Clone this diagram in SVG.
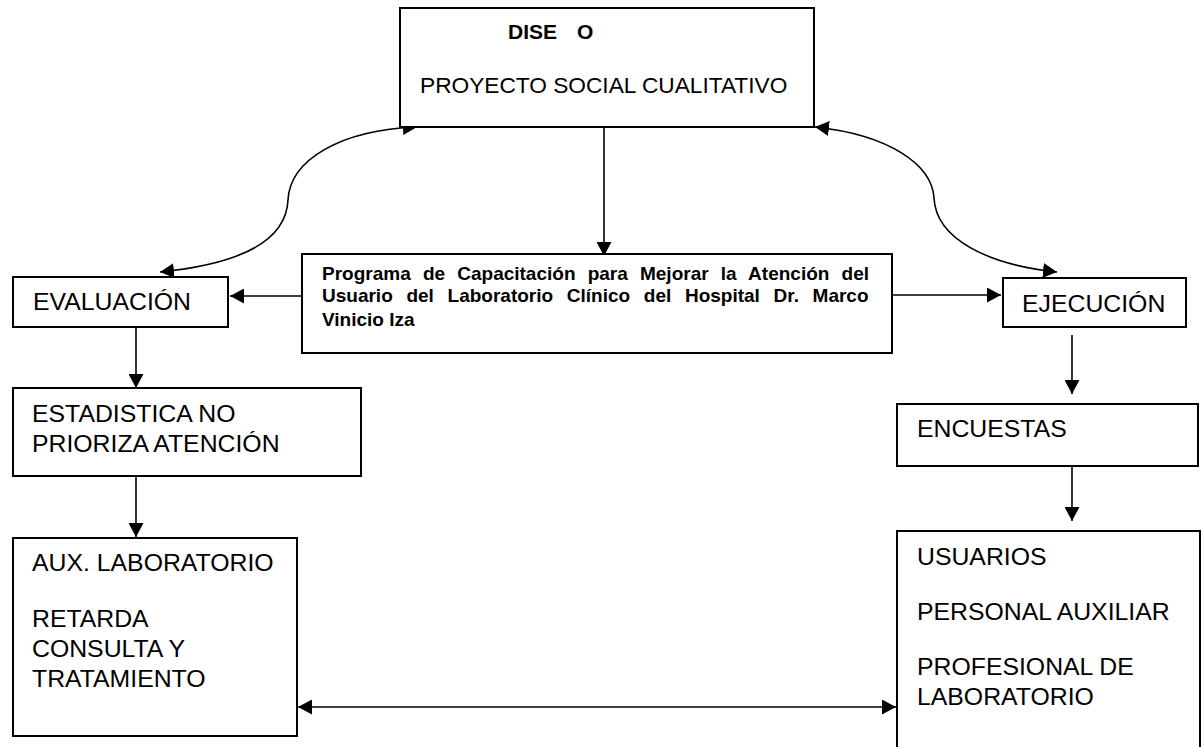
<svg xmlns="http://www.w3.org/2000/svg" width="1204" height="747" viewBox="0 0 1204 747">
<style>
.box{fill:#fff;stroke:#000;stroke-width:2}
.t{font-family:"Liberation Sans",Arial,sans-serif;font-size:24.8px;fill:#000}
.tb{font-family:"Liberation Sans",Arial,sans-serif;font-weight:bold;fill:#000}
.c{fill:none;stroke:#000;stroke-width:1.6}
</style>
<defs>
<marker id="ah" markerUnits="userSpaceOnUse" markerWidth="15" markerHeight="15" refX="14" refY="7.5" orient="auto-start-reverse" viewBox="0 0 15 15">
<path d="M0,0 L14,7.5 L0,15 z" fill="#000"/>
</marker>
</defs>
<rect width="1204" height="747" fill="#fff"/>
<g id="connectors">
<path class="c" d="M417,127 C340,130 290,160 288,200 C286,245 230,265 160,272" marker-start="url(#ah)" marker-end="url(#ah)"/>
<path class="c" d="M815,127 C890,135 932,165 934,198 C936,240 990,265 1057,272" marker-start="url(#ah)" marker-end="url(#ah)"/>
<path class="c" d="M604,127 L604,256" marker-end="url(#ah)"/>
<path class="c" d="M302,296 L230,296" marker-end="url(#ah)"/>
<path class="c" d="M892,295 L1001,295" marker-end="url(#ah)"/>
<path class="c" d="M136,327 L136,388" marker-end="url(#ah)"/>
<path class="c" d="M136,476 L136,537" marker-end="url(#ah)"/>
<path class="c" d="M1072,335 L1072,394" marker-end="url(#ah)"/>
<path class="c" d="M1072,467 L1072,521" marker-end="url(#ah)"/>
<path class="c" d="M298,707 L896,707" marker-start="url(#ah)" marker-end="url(#ah)"/>
</g>
<g id="diseno">
<rect class="box" x="400" y="8" width="414" height="119"/>
<text class="tb" font-size="21" x="508" y="39">DISE<tspan x="577">O</tspan></text>
<text class="t" x="420" y="93" style="font-size:22.7px">PROYECTO SOCIAL CUALITATIVO</text>
</g>
<g id="programa">
<rect class="box" x="302" y="254" width="590" height="99"/>
<text class="tb" font-size="19" x="322" y="280" word-spacing="6.9">Programa de Capacitación para Mejorar la Atención del</text>
<text class="tb" font-size="19" x="322" y="302" word-spacing="8.4">Usuario del Laboratorio Clínico del Hospital Dr. Marco</text>
<text class="tb" font-size="19" x="322" y="326">Vinicio Iza</text>
</g>
<g id="evaluacion">
<rect class="box" x="13" y="277" width="215" height="50"/>
<text class="t" x="33" y="310">EVALUACIÓN</text>
</g>
<g id="ejecucion">
<rect class="box" x="1003" y="278" width="183" height="49"/>
<text class="t" x="1022" y="312">EJECUCIÓN</text>
</g>
<g id="estadistica">
<rect class="box" x="13" y="388" width="348" height="88"/>
<text class="t" x="32" y="422">ESTADISTICA NO</text>
<text class="t" x="32" y="452">PRIORIZA ATENCIÓN</text>
</g>
<g id="aux">
<rect class="box" x="13" y="538" width="284" height="198"/>
<text class="t" x="32" y="571">AUX. LABORATORIO</text>
<text class="t" x="32" y="627">RETARDA</text>
<text class="t" x="32" y="657">CONSULTA Y</text>
<text class="t" x="32" y="687">TRATAMIENTO</text>
</g>
<g id="encuestas">
<rect class="box" x="897" y="404" width="301" height="62"/>
<text class="t" x="917" y="437">ENCUESTAS</text>
</g>
<g id="usuarios">
<rect class="box" x="897" y="531" width="303" height="230"/>
<text class="t" x="917" y="565">USUARIOS</text>
<text class="t" x="917" y="620">PERSONAL AUXILIAR</text>
<text class="t" x="917" y="675">PROFESIONAL DE</text>
<text class="t" x="917" y="705">LABORATORIO</text>
</g>
</svg>
